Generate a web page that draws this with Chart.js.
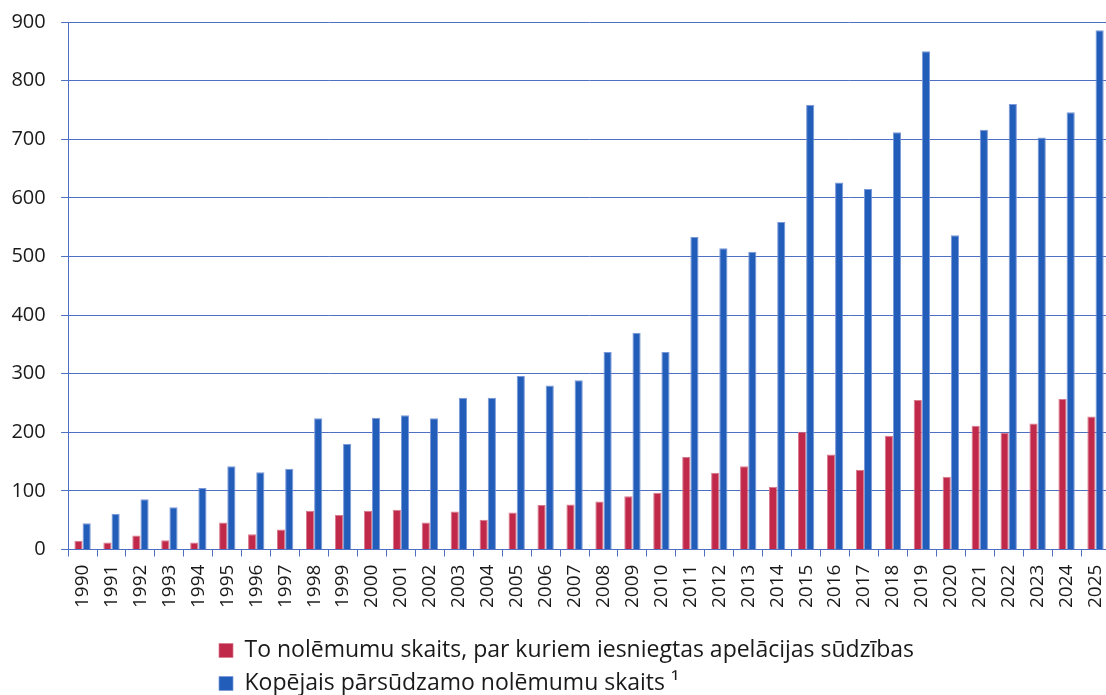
<!DOCTYPE html>
<html>
<head>
<meta charset="utf-8">
<script src="https://cdn.jsdelivr.net/npm/chart.js@4/dist/chart.umd.min.js"></script>
<style>
  html, body { margin: 0; padding: 0; background: #ffffff; overflow: hidden; }
  #wrap { width: 1110px; height: 695px; }
</style>
</head>
<body>
<div id="wrap"><canvas id="c" width="1110" height="695"></canvas></div>
<script>
const years = ['1990','1991','1992','1993','1994','1995','1996','1997','1998','1999','2000','2001','2002','2003','2004','2005','2006','2007','2008','2009','2010','2011','2012','2013','2014','2015','2016','2017','2018','2019','2020','2021','2022','2023','2024','2025'];
const appealed = [15,12,24,16,12,46,26,34,66,59,66,68,46,65,51,63,76,77,82,91,97,158,131,142,107,201,162,136,194,255,124,211,199,215,257,227];
const totalAppealable = [45,61,86,72,105,142,132,138,224,180,225,229,224,259,259,296,280,289,337,370,337,533,514,508,559,759,626,615,712,850,536,716,760,703,746,886];
const yTicks = [0,100,200,300,400,500,600,700,800,900];
const seriesNames = ['To nolēmumu skaits, par kuriem iesniegtas apelācijas sūdzības', 'Kopējais pārsūdzamo nolēmumu skaits ¹'];

const RED = '#c0294a';
const BLUE = '#225dba';
const GRID = '#4f6fc2';
const FONT = '"Open Sans", "Noto Sans", sans-serif';

const legendShift = {
  id: 'legendShift',
  afterLayout(chart) {
    const lg = chart.legend;
    if (lg) {
      lg.left = 209;
      lg.top += 13;
      lg.bottom += 13;
    }
  }
};

new Chart(document.getElementById('c'), {
  type: 'bar',
  data: {
    labels: years,
    datasets: [
      { label: seriesNames[0], data: appealed, backgroundColor: RED, borderColor: '#d87a8e', borderWidth: {top:1,left:1,right:1,bottom:0} },
      { label: seriesNames[1], data: totalAppealable, backgroundColor: BLUE, borderColor: '#7b98d8', borderWidth: {top:1,left:1,right:1,bottom:0} }
    ]
  },
  plugins: [legendShift],
  options: {
    responsive: false,
    animation: false,
    layout: { padding: { left: -4, top: 22, right: 0, bottom: 3 } },
    datasets: { bar: { categoryPercentage: 0.565, barPercentage: 1.0 } },
    scales: {
      x: {
        afterFit(scale) { scale.paddingLeft = 0; scale.paddingRight = 0; },
        grid: { display: true, drawOnChartArea: false, drawTicks: true, tickLength: 7, color: GRID, offset: true },
        border: { display: true, color: GRID, width: 1 },
        ticks: { minRotation: 90, maxRotation: 90, autoSkip: false, padding: 8, color: '#1a1a1a', font: { family: FONT, size: 19 } }
      },
      y: {
        min: 0, max: 900,
        afterFit(scale) { scale.paddingTop = 0; scale.paddingBottom = 0; },
        afterBuildTicks(axis) { axis.ticks = yTicks.map(v => ({ value: v })); },
        grid: { color: GRID, lineWidth: 1, tickLength: 7 },
        border: { display: true, color: GRID, width: 1 },
        ticks: { padding: 15.4, color: '#1a1a1a', font: { family: FONT, size: 20 } }
      }
    },
    plugins: {
      legend: {
        position: 'bottom',
        align: 'start',
        fullSize: false,
        labels: {
          boxWidth: 14, boxHeight: 14, padding: 10,
          color: '#1a1a1a',
          font: { family: FONT, size: 23 }
        }
      },
      tooltip: { enabled: false }
    }
  }
});
</script>
</body>
</html>
